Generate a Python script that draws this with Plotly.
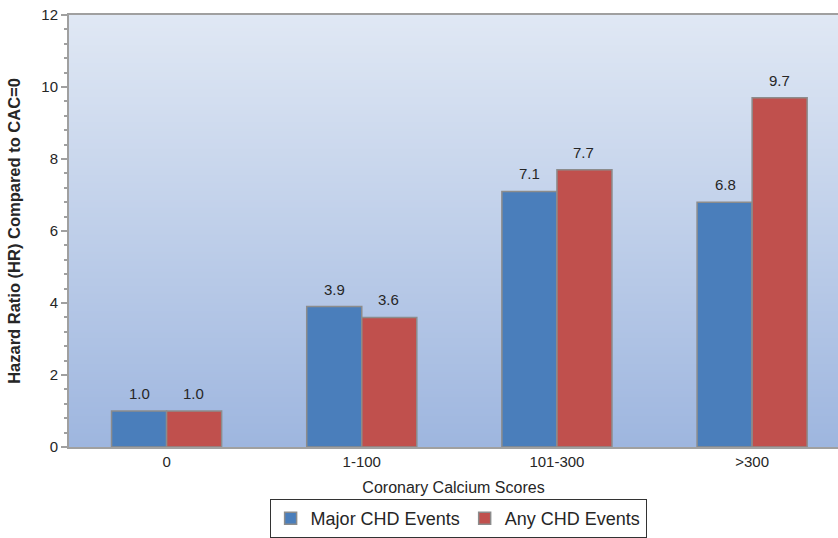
import base64
import struct
import zlib

import plotly.graph_objects as go

categories = ['0', '1-100', '101-300', '>300']
major_chd = [1.0, 3.9, 7.1, 6.8]
any_chd = [1.0, 3.6, 7.7, 9.7]

blue = '#4a7ebb'
red = '#c0504d'
edge = 'rgb(140,140,140)'
txt = '#262626'


def gradient_png(top, bottom, h=256):
    # tiny 2 x h png, stretched over the plot area as background
    rows = b''
    for i in range(h):
        f = i / (h - 1)
        c = bytes(round(top[k] + (bottom[k] - top[k]) * f) for k in range(3))
        rows += b'\x00' + c * 2

    def chunk(t, d):
        return struct.pack('>I', len(d)) + t + d + struct.pack('>I', zlib.crc32(t + d) & 0xffffffff)

    png = (b'\x89PNG\r\n\x1a\n'
           + chunk(b'IHDR', struct.pack('>IIBBBBB', 2, h, 8, 2, 0, 0, 0))
           + chunk(b'IDAT', zlib.compress(rows))
           + chunk(b'IEND', b''))
    return 'data:image/png;base64,' + base64.b64encode(png).decode()


fig = go.Figure()

fig.add_trace(go.Bar(x=categories, y=major_chd, name='Major CHD Events',
                     marker=dict(color=blue, line=dict(color=edge, width=1.5))))
fig.add_trace(go.Bar(x=categories, y=any_chd, name='Any CHD Events',
                     marker=dict(color=red, line=dict(color=edge, width=1.5))))

# value labels above each bar
for vals, shift in [(major_chd, -27), (any_chd, 27)]:
    for c, v in zip(categories, vals):
        fig.add_annotation(x=c, y=v, text=f'{v:.1f}', showarrow=False,
                           xshift=shift, yshift=7, yanchor='bottom',
                           font=dict(size=15, color=txt))

fig.add_layout_image(source=gradient_png((224, 232, 244), (158, 182, 223)),
                     xref='paper', yref='paper', x=0, y=1, sizex=1, sizey=1,
                     xanchor='left', yanchor='top', sizing='stretch', layer='below')

fig.update_layout(
    width=838, height=538,
    margin=dict(l=69, r=0, t=15, b=91),
    paper_bgcolor='white', plot_bgcolor='white',
    font=dict(family='Liberation Sans, Arial, sans-serif', color=txt),
    barmode='group', bargap=0.436, bargroupgap=0,
    showlegend=True,
    legend=dict(orientation='h', x=0.506, xanchor='center', y=-0.121, yanchor='top',
                bordercolor='#333333', borderwidth=1, font=dict(size=18),
                itemclick=False),
    xaxis=dict(range=[-0.5, 3.44], showgrid=False, showline=True, mirror=True,
               linecolor='#a0a0a0', linewidth=2, ticks='', automargin=False,
               tickfont=dict(size=15),
               title=dict(text='Coronary Calcium Scores', font=dict(size=16), standoff=13)),
    yaxis=dict(range=[0, 12], dtick=2, showgrid=False, zeroline=False, automargin=False,
               showline=True, linecolor='#a0a0a0', linewidth=2,
               ticks='outside', ticklen=6, tickcolor='#a0a0a0', tickwidth=1.5,
               tickformat='d', tickfont=dict(size=15),
               minor=dict(dtick=0.4, ticks='outside', ticklen=3, tickcolor='#a0a0a0', tickwidth=1.5),
               title=dict(text='<b>Hazard Ratio (HR) Compared to CAC=0</b>',
                          font=dict(size=16.5), standoff=17)),
)

# drop the default 8px body margin so the figure fills the window exactly
fig.write_html("out.html", config=dict(displayModeBar=False),
               post_script="document.body.style.margin='0';")
